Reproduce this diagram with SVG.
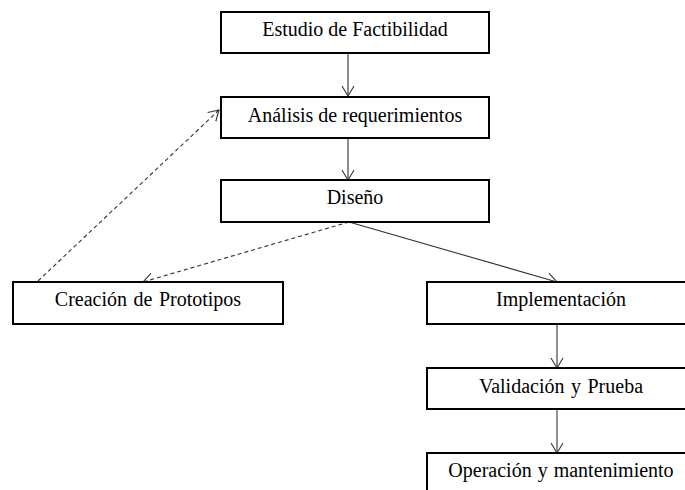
<svg xmlns="http://www.w3.org/2000/svg" width="685" height="490" viewBox="0 0 685 490">
<style>
.box{fill:#fff;stroke:#000;stroke-width:2}
.lbl{font-family:"Liberation Serif","Times New Roman",serif;font-size:20px;fill:#000;text-anchor:middle}
.con{fill:none;stroke:#333;stroke-width:1.1}
.dash{stroke-dasharray:4 3}
</style>
<defs>
<marker id="arr" markerUnits="userSpaceOnUse" viewBox="-11 -7 12 14" markerWidth="12" markerHeight="14" refX="0" refY="0" orient="auto" overflow="visible">
<path d="M-10,-6 L0,0 L-10,6" fill="none" stroke="#333" stroke-width="1.1"/>
</marker>
</defs>
<rect width="685" height="490" fill="#fff"/>
<g id="connectors">
<line class="con" x1="348" y1="53" x2="348" y2="96" marker-end="url(#arr)"/>
<line class="con" x1="348" y1="138" x2="348" y2="180" marker-end="url(#arr)"/>
<line class="con" x1="349" y1="222" x2="557" y2="282" marker-end="url(#arr)"/>
<line class="con dash" x1="349" y1="222" x2="143" y2="282" marker-end="url(#arr)"/>
<line class="con dash" x1="38" y1="281" x2="219" y2="110" marker-end="url(#arr)"/>
<line class="con" x1="557" y1="325" x2="557" y2="368" marker-end="url(#arr)"/>
<line class="con" x1="557" y1="410" x2="557" y2="453" marker-end="url(#arr)"/>
</g>
<g id="estudio">
<rect class="box" x="221" y="12" width="268" height="41"/>
<text class="lbl" x="355" y="36">Estudio de Factibilidad</text>
</g>
<g id="analisis">
<rect class="box" x="221" y="97" width="268" height="41"/>
<text class="lbl" x="355" y="122">Análisis de requerimientos</text>
</g>
<g id="diseno">
<rect class="box" x="221" y="180" width="268" height="42"/>
<text class="lbl" x="355" y="204">Diseño</text>
</g>
<g id="creacion">
<rect class="box" x="13" y="282" width="270" height="42"/>
<text class="lbl" x="148" y="306" style="word-spacing:1.5px">Creación de Prototipos</text>
</g>
<g id="implementacion">
<rect class="box" x="427" y="282" width="268" height="42"/>
<text class="lbl" x="561" y="306">Implementación</text>
</g>
<g id="validacion">
<rect class="box" x="427" y="368" width="268" height="41"/>
<text class="lbl" x="561" y="393" style="word-spacing:1.5px">Validación y Prueba</text>
</g>
<g id="operacion">
<rect class="box" x="427" y="453" width="268" height="45"/>
<text class="lbl" x="561" y="477" style="word-spacing:1px">Operación y mantenimiento</text>
</g>
</svg>
